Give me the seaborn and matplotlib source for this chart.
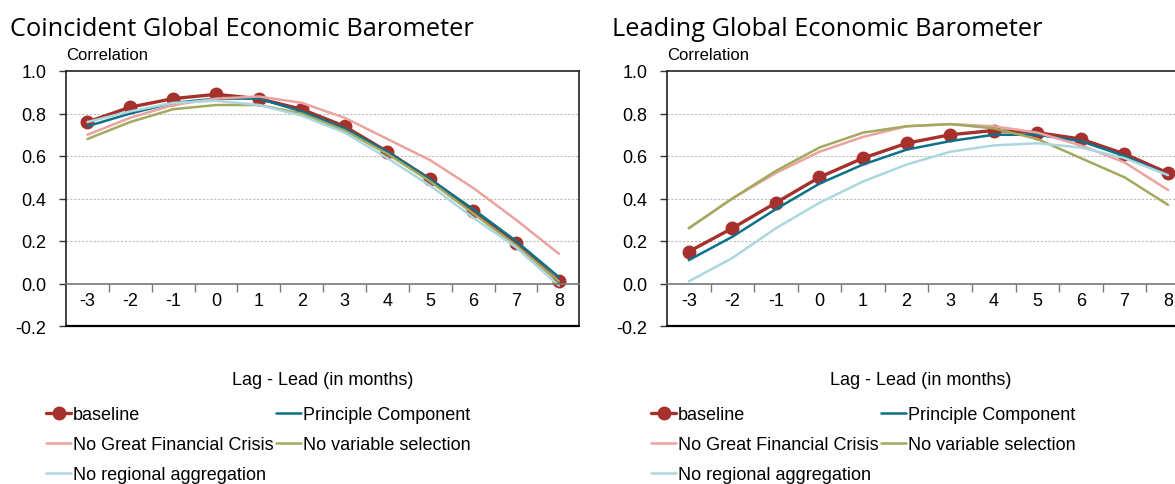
import numpy as np
import pandas as pd
import matplotlib
matplotlib.use("Agg")
import matplotlib.pyplot as plt
from matplotlib.ticker import FixedLocator, FormatStrFormatter
import seaborn as sns

# ---- data ----
lags = list(range(-3, 9))

series_names = ["baseline", "Principle Component", "No Great Financial Crisis",
                "No variable selection", "No regional aggregation"]

coin_baseline = [0.76, 0.83, 0.87, 0.89, 0.87, 0.82, 0.74, 0.62, 0.49, 0.34, 0.19, 0.01]
coin_pc       = [0.74, 0.80, 0.85, 0.87, 0.87, 0.81, 0.73, 0.62, 0.49, 0.35, 0.20, 0.03]
coin_no_gfc   = [0.70, 0.78, 0.84, 0.87, 0.88, 0.85, 0.78, 0.68, 0.58, 0.45, 0.30, 0.14]
coin_no_vsel  = [0.68, 0.76, 0.82, 0.84, 0.84, 0.80, 0.72, 0.61, 0.48, 0.33, 0.18, 0.01]
coin_no_reg   = [0.76, 0.81, 0.85, 0.86, 0.84, 0.79, 0.71, 0.59, 0.46, 0.31, 0.17, -0.01]

lead_baseline = [0.15, 0.26, 0.38, 0.50, 0.59, 0.66, 0.70, 0.72, 0.71, 0.68, 0.61, 0.52]
lead_pc       = [0.11, 0.22, 0.35, 0.47, 0.56, 0.63, 0.67, 0.70, 0.70, 0.67, 0.60, 0.51]
lead_no_gfc   = [0.26, 0.40, 0.52, 0.62, 0.69, 0.74, 0.75, 0.74, 0.71, 0.65, 0.57, 0.44]
lead_no_vsel  = [0.26, 0.40, 0.53, 0.64, 0.71, 0.74, 0.75, 0.73, 0.68, 0.59, 0.50, 0.37]
lead_no_reg   = [0.01, 0.12, 0.26, 0.38, 0.48, 0.56, 0.62, 0.65, 0.66, 0.64, 0.59, 0.51]

COLORS = {
    "baseline": "#A6302C",
    "Principle Component": "#0B7189",
    "No Great Financial Crisis": "#EBA3A0",
    "No variable selection": "#A3A95E",
    "No regional aggregation": "#ACD7DF",
}

sns.set_theme(style="white")
plt.rcParams["font.family"] = ["Liberation Sans", "DejaVu Sans"]
plt.rcParams["text.color"] = "black"
plt.rcParams["axes.labelcolor"] = "black"
plt.rcParams["xtick.color"] = "black"
plt.rcParams["ytick.color"] = "black"

fig = plt.figure(figsize=(11.75, 4.85), dpi=100)
ax1 = fig.add_axes([66 / 1175, 1 - 327 / 485, 513 / 1175, 255 / 485])
ax2 = fig.add_axes([667 / 1175, 1 - 327 / 485, 508 / 1175, 255 / 485])


def draw_panel(ax, values, xmax):
    for name, vals in zip(series_names, values):
        if name == "baseline":
            sns.lineplot(x=lags, y=vals, ax=ax, color=COLORS[name], lw=2.4,
                         marker="o", markersize=10, markeredgewidth=0, label=name)
        else:
            sns.lineplot(x=lags, y=vals, ax=ax, color=COLORS[name], lw=1.8, label=name)

    ax.set_xlim(-3.5, xmax)
    ax.set_ylim(-0.2, 1.0)
    ax.set_yticks(np.arange(-0.2, 1.01, 0.2))
    ax.yaxis.set_major_formatter(FormatStrFormatter("%.1f"))
    ax.tick_params(axis="y", direction="out", length=5, width=1, color="#333333",
                   pad=9, labelsize=13, left=True)
    for y in [0.2, 0.4, 0.6, 0.8]:
        ax.axhline(y, color="#BBBBBB", lw=0.8, ls=(0, (2, 1.5)), zorder=0)

    # x axis crosses at zero; category labels on integers, tick marks between
    ax.spines["bottom"].set_position(("data", 0))
    ax.spines["bottom"].set_color("#777777")
    ax.spines["bottom"].set_linewidth(1.2)
    ax.set_xticks(lags)
    ax.set_xticklabels([str(v) for v in lags])
    ax.xaxis.set_minor_locator(FixedLocator(np.arange(-2.5, 8.0, 1.0)))
    ax.tick_params(axis="x", which="major", length=0, pad=6, labelsize=13)
    ax.tick_params(axis="x", which="minor", direction="out", length=6, width=1,
                   color="#777777", bottom=True)
    ax.axhline(-0.2, color="black", lw=1.6, clip_on=False, zorder=5)

    for s in ["left", "top", "right"]:
        ax.spines[s].set_color("#222222")
        ax.spines[s].set_linewidth(1.2)
    ax.set_xlabel("Lag - Lead (in months)", fontsize=13)
    ax.xaxis.set_label_coords(0.5, -0.175)
    ax.set_ylabel("")
    ax.text(0.0, 1.035, "Correlation", transform=ax.transAxes, fontsize=12,
            ha="left", va="bottom")
    ax.legend_.remove()


draw_panel(ax1, [coin_baseline, coin_pc, coin_no_gfc, coin_no_vsel, coin_no_reg], 8.47)
draw_panel(ax2, [lead_baseline, lead_pc, lead_no_gfc, lead_no_vsel, lead_no_reg], 8.16)
ax2.spines["right"].set_visible(False)

fig.text(10 / 1175, 1 - 29 / 485, "Coincident Global Economic Barometer",
         fontsize=18.3, family=["Open Sans", "DejaVu Sans"], va="center", ha="left")
fig.text(612 / 1175, 1 - 29 / 485, "Leading Global Economic Barometer",
         fontsize=18.3, family=["Open Sans", "DejaVu Sans"], va="center", ha="left")

# legends below each panel, row-major order
for ax, x0 in [(ax1, 46 / 1175), (ax2, 651 / 1175)]:
    handles, labels = ax.get_legend_handles_labels()
    order = [0, 2, 4, 1, 3]
    fig.legend([handles[i] for i in order], [labels[i] for i in order],
               loc="upper left", bbox_to_anchor=(x0, 1 - 407 / 485), ncol=2,
               frameon=False, fontsize=13, handlelength=1.4, handletextpad=0.1,
               columnspacing=0.1, labelspacing=0.72, borderpad=0, borderaxespad=0)

fig.savefig("out.png", dpi=100)
plt.close(fig)
